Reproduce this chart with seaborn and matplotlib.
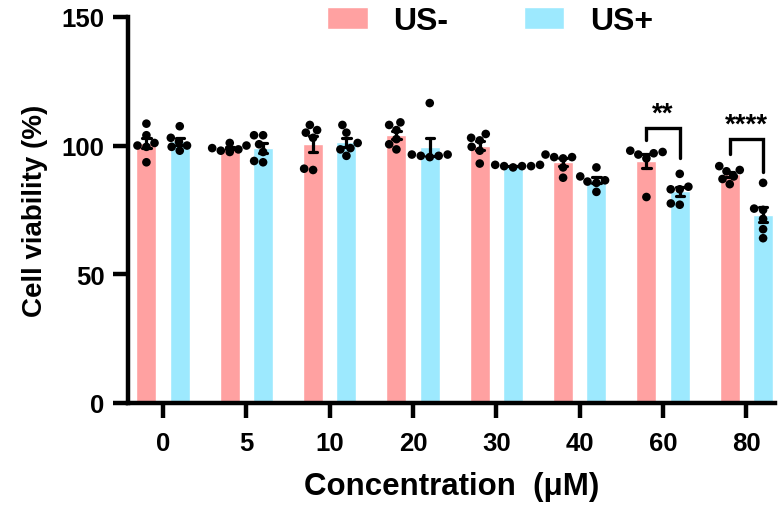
import pandas as pd
import seaborn as sns
import matplotlib.pyplot as plt

concentrations = ['0', '5', '10', '20', '30', '40', '60', '80']
groups = ['US-', 'US+']

us_minus = [
    [108.5, 104, 101, 100, 99.5, 93.5],
    [101, 100, 99, 98.5, 98, 97.5],
    [108, 106, 105, 103, 91, 90.5],
    [109, 108, 106, 102.5, 100.5, 98.5],
    [104.5, 103, 102, 99.5, 98, 93],
    [96.5, 95.5, 95.5, 95, 91.5, 87.5],
    [98, 97.5, 97, 96.5, 95, 80],
    [92, 90.5, 90, 88, 87, 85],
]
us_plus = [
    [107.5, 103, 101.5, 100, 99.5, 98],
    [104, 104, 100.5, 97.5, 94, 93.5],
    [108, 105, 101, 99, 98.5, 96],
    [116.5, 96.5, 96, 96, 96.5, 95.5],
    [92.5, 92, 92, 91.5, 92, 92.5],
    [91.5, 88, 86.5, 86, 85.5, 82],
    [89, 84, 83, 83, 77.5, 77],
    [85.5, 75.5, 75, 71.5, 67.5, 64],
]

# significance: (category index, label, bracket top, left leg end, right leg end)
signif = [(6, '**', 107, 102, 95), (7, '****', 102.6, 96.8, 89.6)]

rows = []
for i, c in enumerate(concentrations):
    for v in us_minus[i]:
        rows.append((c, 'US-', v))
    for v in us_plus[i]:
        rows.append((c, 'US+', v))
df = pd.DataFrame(rows, columns=['conc', 'group', 'viability'])

palette = {'US-': '#FFA1A1', 'US+': '#9DE9FE'}

sns.set_style('ticks')
plt.rcParams['font.family'] = ['Liberation Sans', 'DejaVu Sans']
plt.rcParams['font.weight'] = 'bold'
for key in ['text.color', 'axes.labelcolor', 'xtick.color', 'ytick.color', 'axes.edgecolor']:
    plt.rcParams[key] = 'black'

fig = plt.figure(figsize=(7.81, 5.10), dpi=100)
ax = fig.add_axes([0.164, 0.208, 0.828, 0.757])

sns.barplot(data=df, x='conc', y='viability', hue='group', order=concentrations,
            hue_order=groups, palette=palette, width=0.8, gap=0.4,
            errorbar='se', capsize=0.2, err_kws={'color': 'black', 'linewidth': 2.3},
            saturation=1, ax=ax)
sns.swarmplot(data=df, x='conc', y='viability', hue='group', order=concentrations,
              hue_order=groups, dodge=True, palette={'US-': 'black', 'US+': 'black'},
              size=6.2, legend=False, ax=ax)

for i, label, top, yl, yr in signif:
    xl, xr = i - 0.2, i + 0.2
    ax.plot([xl, xl, xr, xr], [yl, top, top, yr], color='black', lw=2.4,
            solid_joinstyle='miter', clip_on=False)
    ax.text(i, top + 0.5, label, ha='center', va='bottom', fontsize=20, fontweight='bold')

ax.set_ylim(0, 150)
ax.set_xlim(-0.42, 7.34)
ax.set_yticks([0, 50, 100, 150])
ax.set_xlabel('Concentration  (μM)', fontsize=22.5, fontweight='bold', labelpad=12)
ax.set_ylabel('Cell viability (%)', fontsize=20, fontweight='bold', labelpad=10)
for s in ['left', 'bottom']:
    ax.spines[s].set_linewidth(3.2)
    ax.spines[s].set_color('black')
sns.despine(ax=ax)
ax.tick_params(axis='both', length=11, width=3.2, labelsize=18.5, pad=6, colors='black')
ax.tick_params(axis='x', pad=9)

handles, labels = ax.get_legend_handles_labels()
ax.get_legend().remove()
fig.legend(handles, labels, loc='center', bbox_to_anchor=(490 / 781, 1 - 22 / 510),
           ncol=2, frameon=False, handlelength=1.28, handleheight=0.66,
           handletextpad=0.8, columnspacing=2.35, prop={'weight': 'bold', 'size': 23})

fig.savefig('out.png', dpi=100)
plt.close(fig)
